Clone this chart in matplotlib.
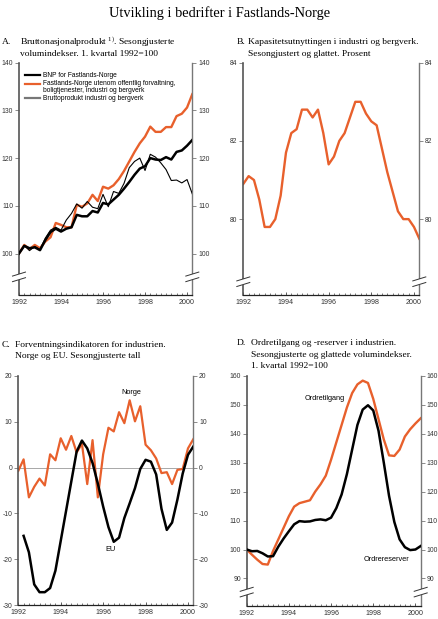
import numpy as np
import matplotlib
matplotlib.use("Agg")
import matplotlib.pyplot as plt
from matplotlib.patches import Rectangle

plt.rcParams['font.family'] = 'Liberation Sans'
plt.rcParams['mathtext.fontset'] = 'custom'
plt.rcParams['mathtext.rm'] = 'Liberation Serif'

# quarterly observations, 1992 K1 - 2000 K2
t = 1992 + 0.25 * np.arange(34)
year_ticks = [1992, 1994, 1996, 1998, 2000]

# A. Bruttonasjonalprodukt
bnp = [100, 101.6, 101.1, 101.3, 100.7, 102.8, 104.5, 105.2, 104.6, 105.2,
       105.5, 108.1, 107.8, 107.8, 108.9, 108.6, 110.6, 110.3, 111.3, 112.3,
       113.6, 115.0, 116.5, 117.8, 118.3, 120.0, 119.7, 119.6, 120.2, 119.7,
       121.3, 121.6, 122.6, 123.8]
fastland = [100, 101.8, 100.9, 101.8, 101.1, 102.5, 103.4, 106.4, 106.0, 105.5,
            105.5, 110.2, 109.8, 110.5, 112.3, 111.0, 114.0, 113.6, 114.3, 115.6,
            117.3, 119.3, 121.3, 123.1, 124.5, 126.6, 125.5, 125.5, 126.5, 126.5,
            128.8, 129.3, 130.6, 133.4]
industri = [100, 101.7, 100.6, 101.5, 100.8, 103.2, 104.9, 105.5, 104.9, 107.0,
            108.4, 110.4, 109.5, 110.9, 109.7, 109.4, 112.4, 109.8, 113.0, 112.6,
            114.7, 118.0, 119.3, 120.0, 117.4, 120.8, 120.2, 119.0, 117.6, 115.3,
            115.4, 114.8, 115.5, 112.5]

# B. Kapasitetsutnytting
kapasitet = [80.9, 81.1, 81.0, 80.5, 79.8, 79.8, 80.0, 80.6, 81.7, 82.2,
             82.3, 82.8, 82.8, 82.6, 82.8, 82.2, 81.4, 81.6, 82.0, 82.2,
             82.6, 83.0, 83.0, 82.7, 82.5, 82.4, 81.8, 81.2, 80.7, 80.2,
             80.0, 80.0, 79.8, 79.5]

# C. Forventningsindikatorer
norge = [-0.7, 1.8, -6.5, -4.2, -2.4, -3.9, 2.9, 1.6, 6.4, 3.9,
         6.9, 3.3, 5.2, -3.6, 6.0, -6.5, 2.9, 8.7, 7.9, 12.1,
         9.7, 14.7, 10.1, 13.4, 5.0, 3.8, 2.0, -1.2, -1.0, -3.6,
         -0.5, -0.3, 4.2, 6.2]
eu = [np.nan, -14.9, -18.5, -25.5, -27.2, -27.2, -26.3, -22.5, -16.0, -9.5,
      -3.0, 3.5, 5.9, 4.2, 1.0, -3.5, -8.5, -13.0, -16.2, -15.3,
      -11.0, -7.8, -4.5, -0.3, 1.7, 1.3, -1.5, -9.0, -13.6, -12.0,
      -7.0, -1.3, 2.8, 4.6]

# D. Ordretilgang og -reserver
ordretilgang = [100, 98.2, 96.5, 95.0, 94.8, 99.5, 103.5, 107.5, 111.5, 114.8,
                116.0, 116.5, 117.0, 120.0, 122.5, 125.5, 131.0, 137.0, 143.0, 149.0,
                154.0, 157.0, 158.3, 157.5, 152.0, 145.0, 138.0, 132.5, 132.3, 134.5,
                139.0, 141.5, 143.5, 145.3]
ordrereserver = [100, 99.4, 99.5, 98.7, 97.6, 97.7, 101.0, 103.8, 106.3, 108.7,
                 109.8, 109.6, 109.7, 110.2, 110.4, 110.1, 111.0, 114.3, 119.0, 126.0,
                 134.5, 143.0, 148.3, 149.8, 148.0, 141.0, 130.0, 118.5, 109.5, 103.5,
                 100.8, 99.8, 100.0, 101.2]

ORANGE = '#e8602c'
W, H = 439, 619
fig = plt.figure(figsize=(W / 100, H / 100), dpi=100)


def px_axes(left, top, right, bottom):
    return fig.add_axes([left / W, 1 - bottom / H, (right - left) / W, (bottom - top) / H])


def style(ax, ylim, yticks):
    ax.set_xlim(1992, 2000.25)
    ax.set_ylim(*ylim)
    ax.spines['top'].set_visible(False)
    ax.spines['left'].set_color('#555555')
    ax.spines['left'].set_linewidth(1.2)
    ax.spines['right'].set_color('#777777')
    ax.spines['right'].set_linewidth(1.0)
    ax.spines['bottom'].set_color('#222222')
    ax.spines['bottom'].set_linewidth(0.9)
    ax.set_yticks(yticks)
    ax.set_yticklabels([str(v) for v in yticks])
    ax.tick_params(axis='y', direction='out', length=3.2, width=0.6, color='#777777',
                   labelsize=4.9, labelcolor='#333333', left=True, right=True,
                   labelleft=True, labelright=True, pad=1)
    ax.set_xticks(year_ticks)
    ax.set_xticklabels([str(y) for y in year_ticks])
    ax.set_xticks(t, minor=True)
    ax.tick_params(axis='x', which='major', direction='in', length=2.5, width=0.6,
                   color='#444444', labelsize=5.1, labelcolor='#333333', pad=3)
    ax.tick_params(axis='x', which='minor', direction='in', length=1.6, width=0.5,
                   color='#444444')


def draw_break(ax, yval, wpx, hpx):
    y0, y1 = ax.get_ylim()
    ya = (yval - y0) / (y1 - y0)
    dx = 6.5 / wpx
    s = 2.0 / hpx
    g = 2.8 / hpx
    for xa in (0, 1):
        ax.add_patch(Rectangle((xa - 2.0 / wpx, ya - g), 4.0 / wpx, 2 * g,
                               transform=ax.transAxes, facecolor='white',
                               edgecolor='none', clip_on=False, zorder=5))
        for off in (-g, g):
            ax.plot([xa - dx, xa + dx], [ya + off - s, ya + off + s],
                    transform=ax.transAxes, color='#333333', lw=0.7,
                    clip_on=False, zorder=6)


def header(x_letter, x_text, y, letter, lines):
    fig.text(x_letter / W, 1 - y / H, letter, family='Liberation Serif',
             fontsize=6.8, va='center', ha='left')
    for i, line in enumerate(lines):
        fig.text(x_text / W, 1 - (y + i * 11.3) / H, line, family='Liberation Serif',
                 fontsize=6.8, va='center', ha='left')


fig.text(0.5, 1 - 13 / H, 'Utvikling i bedrifter i Fastlands-Norge',
         family='Liberation Serif', fontsize=10.4, ha='center', va='center')

# ---- A ----
axA = px_axes(19, 62.7, 192.3, 295)
axA.plot(t, industri, color='black', lw=0.8, zorder=3)
axA.plot(t, bnp, color='black', lw=1.8, zorder=3)
axA.plot(t, fastland, color=ORANGE, lw=1.7, zorder=2)
style(axA, (91.3, 140), [100, 110, 120, 130, 140])
draw_break(axA, 95.1, 173.3, 232.3)
header(2, 20, 42.5, 'A.', [r'Bruttonasjonalprodukt $^{\mathrm{1)}}$. Sesongjusterte',
                           'volumindekser. 1. kvartal 1992=100'])
leg = [('BNP for Fastlands-Norge', 'black', 0.945),
       ('Fastlands-Norge utenom offentlig forvaltning,', ORANGE, 0.909),
       ('Bruttoprodukt industri og bergverk', '#777777', 0.848)]
for label, col, ya in leg:
    axA.plot([0.035, 0.12], [ya, ya], transform=axA.transAxes, color=col, lw=1.6)
    axA.text(0.14, ya, label, transform=axA.transAxes, fontsize=4.8, va='center')
axA.text(0.14, 0.879, 'boligtjenester, industri og bergverk', transform=axA.transAxes,
         fontsize=4.8, va='center')

# ---- B ----
axB = px_axes(243.3, 62.7, 419.3, 295)
axB.plot(t, kapasitet, color=ORANGE, lw=1.7)
style(axB, (78.06, 84), [80, 82, 84])
draw_break(axB, 78.4, 176, 232.3)
header(236.5, 248, 42.5, 'B.', ['Kapasitetsutnyttingen i industri og bergverk.',
                                'Sesongjustert og glattet. Prosent'])

# ---- C ----
axC = px_axes(18.3, 376, 193.3, 605)
axC.axhline(0, color='#999999', lw=0.6, zorder=1)
axC.plot(t, norge, color=ORANGE, lw=1.6, zorder=2)
axC.plot(t, eu, color='black', lw=1.8, zorder=3)
style(axC, (-30, 20), [-30, -20, -10, 0, 10, 20])
axC.text(1997.31, 16.3, 'Norge', fontsize=5.3, ha='center', va='center')
axC.text(1996.37, -17.8, 'EU', fontsize=5.3, ha='center', va='center')
header(2, 15, 345, 'C.', ['Forventningsindikatoren for industrien.',
                          'Norge og EU. Sesongjusterte tall'])

# ---- D ----
axD = px_axes(246.7, 375.7, 420.7, 606)
axD.plot(t, ordretilgang, color=ORANGE, lw=1.7, zorder=2)
axD.plot(t, ordrereserver, color='black', lw=1.8, zorder=3)
style(axD, (80.5, 160), [90, 100, 110, 120, 130, 140, 150, 160])
draw_break(axD, 85.3, 174, 230.3)
axD.text(1995.71, 152.3, 'Ordretilgang', fontsize=5.3, ha='center', va='center')
axD.text(1998.65, 96.7, 'Ordrereserver', fontsize=5.3, ha='center', va='center')
header(236.5, 250.7, 343.5, 'D.', ['Ordretilgang og -reserver i industrien.',
                                   'Sesongjusterte og glattede volumindekser.',
                                   '1. kvartal 1992=100'])

fig.savefig('out.png', dpi=100, facecolor='white')
